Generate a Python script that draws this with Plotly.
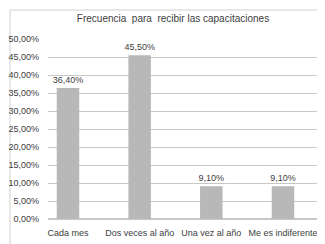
import plotly.graph_objects as go

categories = ["Cada mes", "Dos veces al año", "Una vez al año", "Me es indiferente"]
values = [0.364, 0.455, 0.091, 0.091]
title_text = "Frecuencia  para  recibir las capacitaciones"
y_ticks = [0, 0.05, 0.10, 0.15, 0.20, 0.25, 0.30, 0.35, 0.40, 0.45, 0.50]

W, H = 325, 244
L, R, T, B = 40, 15, 31, 33
pw, ph = W - L - R, H - T - B

fig = go.Figure(go.Bar(
    x=categories, y=values,
    marker=dict(color="#b8b8b8", line=dict(width=0)),
    width=0.314,
    texttemplate="%{y:.2%}", textposition="outside", constraintext="none",
    textfont=dict(size=9, color="#404040", family="Liberation Sans"),
    cliponaxis=False,
))

def px_to_paper_x(px):
    return (px - L) / pw

def px_to_paper_y(py):
    return (H - B - py) / ph

fig.add_shape(type="rect", xref="paper", yref="paper",
              x0=px_to_paper_x(2), x1=px_to_paper_x(317),
              y0=px_to_paper_y(240), y1=px_to_paper_y(2),
              line=dict(color="#d0d0d0", width=1), fillcolor="rgba(0,0,0,0)", layer="below")

fig.update_layout(
    width=W, height=H,
    margin=dict(l=L, r=R, t=T, b=B),
    paper_bgcolor="white", plot_bgcolor="white",
    separators=",.",
    showlegend=False,
    title=dict(text=title_text, x=(165 - L) / pw, xanchor="center", xref="paper",
               y=1 - 10 / H, yanchor="middle",
               font=dict(size=10, color="#404040", family="Liberation Sans")),
    xaxis=dict(type="category", range=[-0.279, 3.489], showgrid=False, showline=False,
               ticks="", automargin=False, ticklabelstandoff=7,
               tickfont=dict(size=9, color="#404040", family="Liberation Sans")),
    yaxis=dict(range=[0, 0.5], tickvals=y_ticks, tickformat=".2%", automargin=False,
               showgrid=True, gridcolor="#c8c8c8", gridwidth=1, zeroline=True,
               zerolinecolor="#c8c8c8", showline=False, ticks="", ticklabelstandoff=8,
               tickfont=dict(size=9, color="#404040", family="Liberation Sans")),
)

fig.write_html("out.html")
